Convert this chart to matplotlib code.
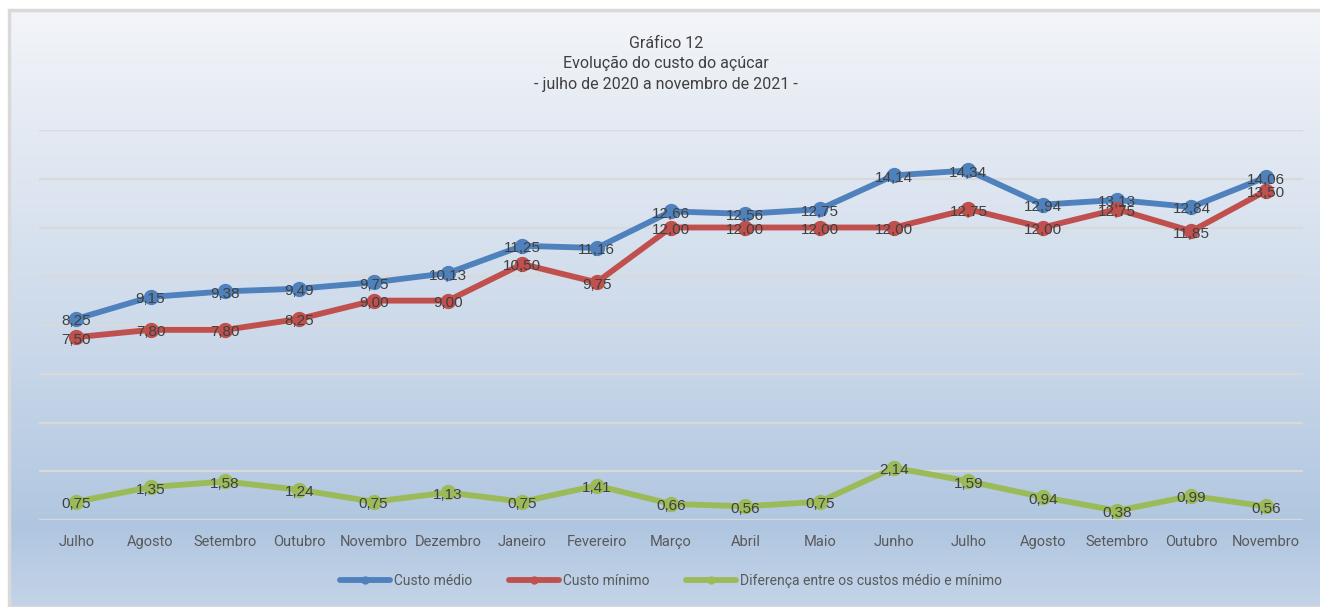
import matplotlib
matplotlib.use("Agg")
import matplotlib.pyplot as plt
import numpy as np
from matplotlib.patches import Rectangle
from matplotlib.colors import LinearSegmentedColormap

meses = ["Julho", "Agosto", "Setembro", "Outubro", "Novembro", "Dezembro", "Janeiro",
         "Fevereiro", "Março", "Abril", "Maio", "Junho", "Julho", "Agosto", "Setembro",
         "Outubro", "Novembro"]
custo_medio = [8.25, 9.15, 9.38, 9.49, 9.75, 10.13, 11.25, 11.16, 12.66, 12.56, 12.75,
               14.14, 14.34, 12.94, 13.13, 12.84, 14.06]
custo_minimo = [7.50, 7.80, 7.80, 8.25, 9.00, 9.00, 10.50, 9.75, 12.00, 12.00, 12.00,
                12.00, 12.75, 12.00, 12.75, 11.85, 13.50]
diferenca = [0.75, 1.35, 1.58, 1.24, 0.75, 1.13, 0.75, 1.41, 0.66, 0.56, 0.75, 2.14,
             1.59, 0.94, 0.38, 0.99, 0.56]
series_names = ["Custo médio", "Custo mínimo", "Diferença entre os custos médio e mínimo"]
titulo = ["Gráfico 12", "Evolução do custo do açúcar", "- julho de 2020 a novembro de 2021 -"]

NARROW = ["Roboto", "DejaVu Sans"]
LABELF = ["Liberation Sans", "DejaVu Sans"]

W, H = 1320, 607
fig = plt.figure(figsize=(W / 100, H / 100), dpi=100)
fig.patch.set_facecolor("white")

# background gradient
bg = fig.add_axes([9 / W, 0, 1 - 9 / W, 1 - 10 / H])
bg.set_axis_off()
cmap = LinearSegmentedColormap.from_list("bg", [
    (0.0, "#f3f5f9"), (0.2, "#e4eaf3"), (0.55, "#cbd9ea"), (0.87, "#b0c6e0"), (1.0, "#c4d4e8")])
grad = np.linspace(0, 1, 256).reshape(-1, 1)
bg.imshow(grad, aspect="auto", cmap=cmap, extent=[0, 1, 0, 1], origin="upper")
bg.set_xlim(0, 1); bg.set_ylim(0, 1)
bg.add_patch(Rectangle((0, 0), 1.2, 1, fill=False, edgecolor="#d9d9d9", lw=2.5,
                       transform=bg.transAxes, clip_on=False))

ax = fig.add_axes([39 / W, (H - 520) / H, (1303 - 39) / W, (520 - 130) / H])
ax.patch.set_alpha(0)
x = np.arange(len(meses))
ax.set_xlim(-0.5, len(meses) - 0.5)
ax.set_ylim(0, 16)
for s in ax.spines.values():
    s.set_visible(False)
ax.set_yticks(np.arange(0, 17, 2))
ax.yaxis.grid(True, color="#d9d9d9", lw=1.6)
ax.set_axisbelow(True)
ax.tick_params(axis="y", left=False, labelleft=False)
ax.set_xticks(x)
ax.set_xticklabels(meses, family=NARROW, fontsize=10.5, color="#595959")
ax.tick_params(axis="x", length=0, pad=11)

colors = ["#4f81bd", "#c0504d", "#9bbb59"]
datas = [custo_medio, custo_minimo, diferenca]
for d, c, n in zip(datas, colors, series_names):
    ax.plot(x, d, color=c, lw=4.2, marker="o", ms=10, label=n, solid_capstyle="round", zorder=3)
    for xi, v in zip(x, d):
        ax.text(xi, v - 0.1, f"{v:.2f}".replace(".", ","), ha="center", va="center",
                family=LABELF, fontsize=11, color="#404040", zorder=5)

leg = ax.legend(loc="center", bbox_to_anchor=(0.5, (520 - 581) / 390), ncol=3,
                frameon=False, handlelength=3.6, handletextpad=0.3, columnspacing=2.6,
                prop={"family": NARROW, "size": 10})
for t in leg.get_texts():
    t.set_color("#595959")
for h in leg.legend_handles:
    h.set_markersize(5)

ys = [43, 63, 84]
for t, y in zip(titulo, ys):
    fig.text(666 / W, 1 - y / H, t, ha="center", va="center", family=NARROW,
             fontsize=11.5, color="#404040")

fig.savefig("out.png", dpi=100)
